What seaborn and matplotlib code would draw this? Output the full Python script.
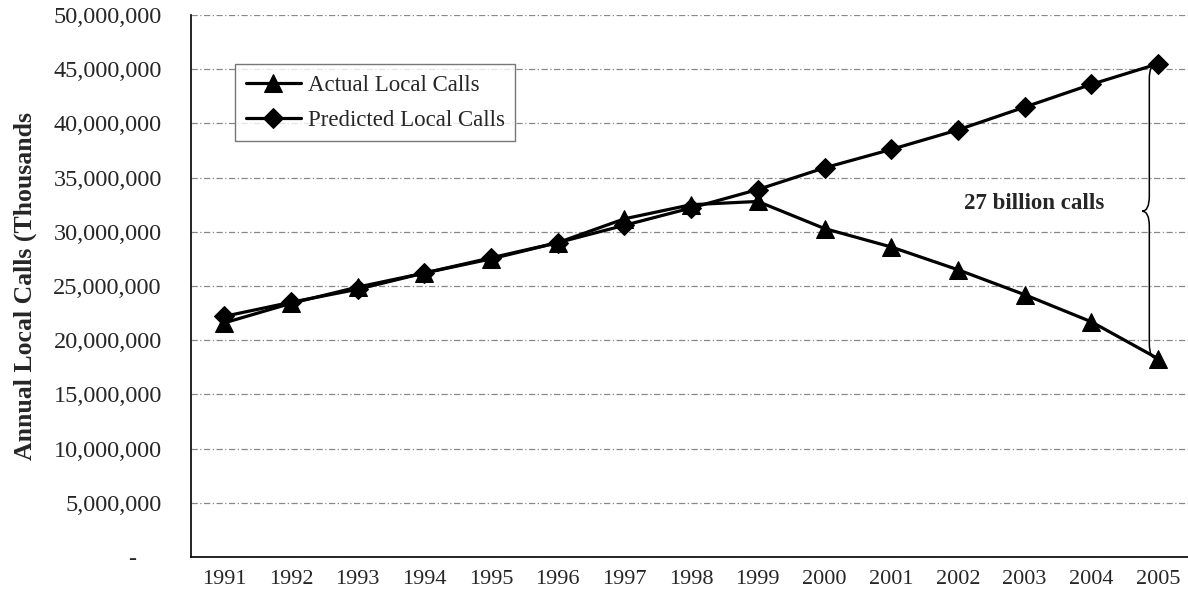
import matplotlib
matplotlib.use("Agg")
import matplotlib.pyplot as plt
import seaborn as sns
import pandas as pd
import numpy as np
from matplotlib.path import Path
from matplotlib.patches import PathPatch
from matplotlib.ticker import FuncFormatter, MultipleLocator

years = ["1991", "1992", "1993", "1994", "1995", "1996", "1997", "1998",
         "1999", "2000", "2001", "2002", "2003", "2004", "2005"]
actual = [21.6, 23.4, 24.9, 26.2, 27.5, 29.0, 31.2, 32.5, 32.8,
          30.3, 28.6, 26.5, 24.2, 21.7, 18.3]          # millions (thousands of calls)
predicted = [22.2, 23.5, 24.7, 26.2, 27.6, 29.0, 30.6, 32.2, 33.9,
             35.9, 37.6, 39.4, 41.5, 43.6, 45.5]
series_names = ["Actual Local Calls", "Predicted Local Calls"]
annotation_text = "27 billion calls"
y_label = "Annual Local Calls (Thousands"

sns.set_theme(style="white")
plt.rcParams["font.family"] = ["Liberation Serif", "DejaVu Serif"]

df = pd.DataFrame({
    "pos": list(range(len(years))) * 2,
    "value": [v * 1e6 for v in actual] + [v * 1e6 for v in predicted],
    "series": [series_names[0]] * len(years) + [series_names[1]] * len(years),
})

fig = plt.figure(figsize=(11.88, 6.06), dpi=100)
ax = fig.add_axes([191 / 1188, 49 / 606, (1188 - 191) / 1188, (557 - 15) / 606])

sns.lineplot(data=df, x="pos", y="value", hue="series", style="series",
             markers={series_names[0]: "^", series_names[1]: "D"},
             dashes=False, palette=["black", "black"], linewidth=2.3,
             markersize=10, markeredgecolor="black", ax=ax, legend=True)
for line in ax.get_lines():
    if line.get_marker() == "^":
        line.set_markersize(12.5)

ax.set_xlim(-0.5, 14.45)
ax.set_ylim(0, 50e6)
ax.yaxis.set_major_locator(MultipleLocator(5e6))
ax.yaxis.set_major_formatter(FuncFormatter(lambda v, p: "-    " if v == 0 else f"{int(round(v)):,}"))
ax.set_xticks(range(len(years)))
ax.set_xticklabels(years)
ax.tick_params(axis="y", labelsize=17.5, length=6, direction="inout", width=0.8, pad=18)
ax.tick_params(axis="x", labelsize=16, length=0, pad=9)
ax.set_xlabel("")
ax.set_ylabel(y_label, fontsize=18.5, fontweight="bold", labelpad=12)

ax.grid(axis="y", color="#888888", linestyle=(0, (5, 2, 1, 2)), linewidth=0.9)
for s in ["top", "right"]:
    ax.spines[s].set_visible(False)
for s in ["left", "bottom"]:
    ax.spines[s].set_color("black")
    ax.spines[s].set_linewidth(1.2)

leg = ax.legend(loc="upper left", bbox_to_anchor=(0.033, 0.93), fontsize=16.5,
                frameon=True, fancybox=False, edgecolor="#555555",
                handlelength=2.4, handletextpad=0.3, borderpad=0.45, labelspacing=0.6)
leg.get_frame().set_linewidth(1.0)
for h in leg.legend_handles:
    h.set_linewidth(2.3)

# brace between the 2005 values
i = len(years) - 1
top = predicted[-1] * 1e6
bot = actual[-1] * 1e6
mid = (top + bot) / 2
xv = i - 0.13
xt = i - 0.24
r = 1.4e6
verts = [
    (i - 0.02, top), (xv, top), (xv, top - r),
    (xv, mid + r),
    (xv, mid), (xt, mid), (xt, mid),
    (xv, mid), (xv, mid - r),
    (xv, bot + r),
    (xv, bot), (i - 0.02, bot),
]
codes = [Path.MOVETO, Path.CURVE3, Path.CURVE3,
         Path.LINETO,
         Path.CURVE3, Path.CURVE3, Path.MOVETO,
         Path.CURVE3, Path.CURVE3,
         Path.LINETO,
         Path.CURVE3, Path.CURVE3]
ax.add_patch(PathPatch(Path(verts, codes), facecolor="none", edgecolor="black",
                       linewidth=1.1, clip_on=False))
ax.text(12.15, mid + 0.7e6, annotation_text, ha="center", va="center",
        fontsize=16.5, fontweight="bold")

fig.savefig("out.png", dpi=100)
